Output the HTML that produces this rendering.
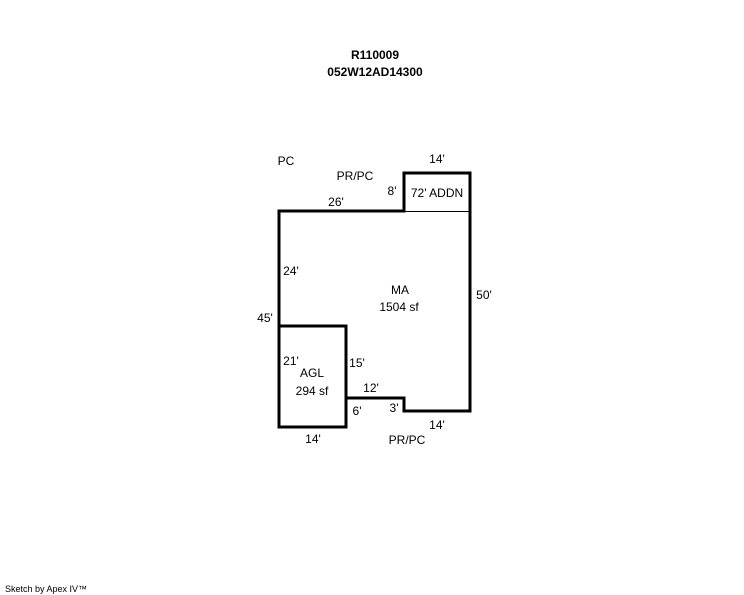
<!DOCTYPE html>
<html><head><meta charset="utf-8"><style>
html,body{margin:0;padding:0;background:#fff;}
svg{display:block;}
text{font-family:"Liberation Sans",Arial,sans-serif;font-size:12px;fill:#000;}
</style></head><body>
<svg width="744" height="595" viewBox="0 0 744 595" xmlns="http://www.w3.org/2000/svg">
<text x="375" y="59" text-anchor="middle" font-weight="bold">R110009</text>
<text x="375" y="76" text-anchor="middle" font-weight="bold">052W12AD14300</text>
<g fill="none" stroke="#000" stroke-width="3" stroke-linejoin="miter" stroke-linecap="square">
<path d="M279 211 L404 211 L404 173 L470 173 L470 411 L404 411 L404 398 L346 398"/>
<path d="M279 211 L279 427 L346 427 L346 326 L279 326"/>
</g>
<line x1="404" y1="211.5" x2="470" y2="211.5" stroke="#000" stroke-width="1"/>
<text x="286" y="165" text-anchor="middle">PC</text>
<text x="355" y="180" text-anchor="middle">PR/PC</text>
<text x="437" y="163" text-anchor="middle">14'</text>
<text x="392" y="195" text-anchor="middle">8'</text>
<text x="437" y="197" text-anchor="middle">72' ADDN</text>
<text x="336" y="206" text-anchor="middle">26'</text>
<text x="291" y="275" text-anchor="middle">24'</text>
<text x="400" y="294" text-anchor="middle">MA</text>
<text x="399" y="311" text-anchor="middle">1504 sf</text>
<text x="484" y="299" text-anchor="middle">50'</text>
<text x="265" y="322" text-anchor="middle">45'</text>
<text x="291" y="365" text-anchor="middle">21'</text>
<text x="357" y="367" text-anchor="middle">15'</text>
<text x="312" y="377" text-anchor="middle">AGL</text>
<text x="312" y="395" text-anchor="middle">294 sf</text>
<text x="371" y="392" text-anchor="middle">12'</text>
<text x="394" y="412" text-anchor="middle">3'</text>
<text x="357" y="415" text-anchor="middle">6'</text>
<text x="437" y="429" text-anchor="middle">14'</text>
<text x="407" y="444" text-anchor="middle">PR/PC</text>
<text x="313" y="443" text-anchor="middle">14'</text>
<text x="5" y="592" style="font-size:9px">Sketch by Apex IV™</text>
</svg>
</body></html>
